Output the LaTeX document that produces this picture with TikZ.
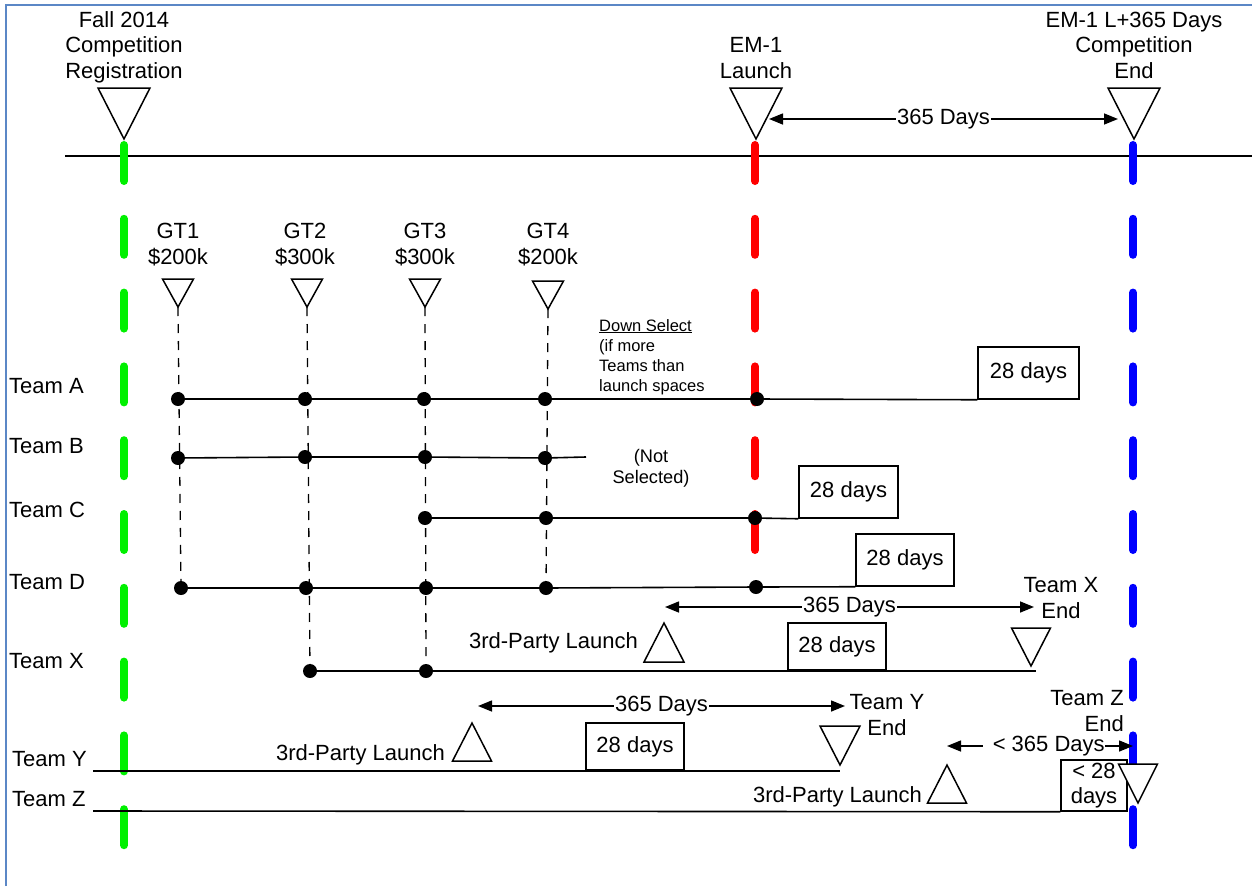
\documentclass[tikz,border=0pt]{standalone}
\usepackage{fontspec}
\setmainfont{Liberation Sans}
\usetikzlibrary{arrows.meta}
\definecolor{framec}{RGB}{91,135,198}
\definecolor{gline}{RGB}{0,240,0}
\definecolor{rline}{RGB}{255,0,0}
\definecolor{bline}{RGB}{0,0,255}
\newcommand\TriDown[5]{% name, x, apex y, width, height
  \coordinate (#1) at (#2,#3);
  \draw[tri] ({#2-#4/2},{#3-#5}) -- ({#2+#4/2},{#3-#5}) -- (#1) -- cycle;}
\newcommand\TriUp[5]{% name, x, apex y, width, height
  \coordinate (#1) at (#2,#3);
  \draw[tri] ({#2-#4/2},{#3+#5}) -- ({#2+#4/2},{#3+#5}) -- (#1) -- cycle;}
\begin{document}
\begin{tikzpicture}[x=1pt,y=-1pt,
  lbl/.style={font=\fontsize{22}{25.5}\selectfont, inner sep=0pt, align=center},
  smalllbl/.style={font=\fontsize{16.5}{20}\selectfont, inner sep=0pt, align=left},
  notsel/.style={font=\fontsize{18.2}{21}\selectfont, inner sep=0pt, align=center},
  tline/.style={line width=1.6pt},
  tri/.style={line width=1.5pt, fill=white, line join=miter},
  gtdash/.style={line width=1.3pt, dash pattern=on 9pt off 8pt},
  colline/.style={line width=8pt, line cap=round, dash pattern=on 36pt off 37.8pt},
  dot/.style={circle, fill=black, inner sep=0pt, minimum size=14pt},
  daybox/.style={draw, line width=1.5pt, fill=white, font=\fontsize{22}{25}\selectfont, inner sep=0pt, align=center},
  dim/.style={line width=1.5pt, {Triangle[length=14pt,width=11pt]}-{Triangle[length=14pt,width=11pt]}},
  dimlbl/.style={fill=white, inner sep=1pt, font=\fontsize{22}{25}\selectfont}
]
\useasboundingbox (0,0) rectangle (1252,886);
% frame
\draw[framec, line width=2pt] (6,886) -- (6,5) -- (1252,5);
% main timeline
\coordinate (tlS) at (65,156);
\coordinate (tlE) at (1252,156);
\draw[tline] (tlS) -- (tlE);
% coloured milestone lines
\coordinate (gTop) at (124,145); \coordinate (gBot) at (124,850);
\coordinate (rTop) at (755,145); \coordinate (rBot) at (755,552);
\coordinate (bTop) at (1133,145); \coordinate (bBot) at (1133,850);
\draw[colline, gline] (gTop) -- (gBot);
\draw[colline, rline] (rTop) -- (rBot);
\draw[colline, bline] (bTop) -- (bBot);
% top milestone triangles and labels
\TriDown{regT}{124}{139}{52}{51}
\TriDown{emT}{756}{139}{52}{51}
\TriDown{endT}{1134}{139}{52}{51}
\node[lbl, anchor=base] (regL) at (124,78) {Fall 2014\\Competition\\Registration};
\node[lbl, anchor=base] (emL) at (756,78) {EM-1\\Launch};
\node[lbl, anchor=base] (endL) at (1134,78) {EM-1 L+365 Days\\Competition\\End};
\coordinate (d0a) at (769,119); \coordinate (d0b) at (1118,119);
\draw[dim] (d0a) -- node[dimlbl] (d0L) {365 Days} (d0b);
% GT milestones
\TriDown{gt1}{178}{307}{31}{28}
\TriDown{gt2}{307}{307}{31}{28}
\TriDown{gt3}{425}{307}{31}{28}
\TriDown{gt4}{548}{309}{31}{28}
\node[lbl, anchor=base] (gt1L) at (178,264) {GT1\\\$200k};
\node[lbl, anchor=base] (gt2L) at (305,264) {GT2\\\$300k};
\node[lbl, anchor=base] (gt3L) at (425,264) {GT3\\\$300k};
\node[lbl, anchor=base] (gt4L) at (548,264) {GT4\\\$200k};
% team labels
\node[lbl, anchor=base west] (tA) at (9,393) {Team A};
\node[lbl, anchor=base west] (tB) at (9,453) {Team B};
\node[lbl, anchor=base west] (tC) at (9,517) {Team C};
\node[lbl, anchor=base west] (tD) at (9,589) {Team D};
\node[lbl, anchor=base west] (tX) at (9,668) {Team X};
\node[lbl, anchor=base west] (tY) at (12,766) {Team Y};
\node[lbl, anchor=base west] (tZ) at (12,806) {Team Z};
% boxes
\node[daybox, minimum width=101pt, minimum height=52pt] (bxA) at (1028.5,373) {28 days};
\node[daybox, minimum width=99pt, minimum height=52pt] (bxC) at (848.5,492) {28 days};
\node[daybox, minimum width=98pt, minimum height=52pt] (bxD) at (905,560) {28 days};
\node[daybox, minimum width=98pt, minimum height=47pt] (bxX) at (837,646.5) {28 days};
\node[daybox, minimum width=98pt, minimum height=47pt] (bxY) at (635,746.5) {28 days};
\node[daybox, minimum width=66pt, minimum height=51pt] (bxZ) at (1094,785.5) {< 28\\days};
% dots
\node[dot] (a1) at (178,399) {}; \node[dot] (a2) at (305,399) {};
\node[dot] (a3) at (424,399) {}; \node[dot] (a4) at (545,399) {};
\node[dot] (a5) at (757,399) {};
\node[dot] (b1) at (178,458) {}; \node[dot] (b2) at (305,457) {};
\node[dot] (b3) at (425,457) {}; \node[dot] (b4) at (545,458) {};
\node[dot] (c1) at (425,518) {}; \node[dot] (c2) at (546,518) {};
\node[dot] (c3) at (755,518) {};
\node[dot] (dd1) at (181,588) {}; \node[dot] (dd2) at (306,588) {};
\node[dot] (dd3) at (426,588) {}; \node[dot] (dd4) at (546,588) {};
\node[dot] (dd5) at (756,587) {};
\node[dot] (x1) at (310,671) {}; \node[dot] (x2) at (426,671) {};
% GT dashed drops
\draw[gtdash] (gt1) -- (dd1.center);
\draw[gtdash] (gt2) -- (x1.center);
\draw[gtdash] (gt3) -- (x2.center);
\draw[gtdash] (gt4) -- (dd4.center);
% team lines
\coordinate (bEnd) at (586,457);
\coordinate (xEnd) at (1036,671);
\coordinate (yS) at (93,771); \coordinate (yE) at (840,771);
\coordinate (zS) at (93,811);
\draw[tline] (a1) -- (a2) -- (a3) -- (a4) -- (a5) -- (bxA.south west);
\draw[tline] (b1) -- (b2) -- (b3) -- (b4) -- (bEnd);
\draw[tline] (c1) -- (c2) -- (c3) -- (bxC.south west);
\draw[tline] (dd1) -- (dd2) -- (dd3) -- (dd4) -- (dd5) -- (bxD.south west);
\draw[tline] (x1) -- (x2) -- (xEnd);
\draw[tline] (yS) -- (yE);
\draw[tline] (zS) -- (bxZ.south west);
% down select text
\node[smalllbl, anchor=base west] (dsel) at (599,391) {\underline{Down Select}\\(if more\\Teams than\\launch spaces};
\node[notsel, anchor=base] (nsel) at (651,483) {(Not\\Selected)};
% Team X third-party
\TriUp{xL}{664}{623}{40}{39}
\TriDown{xE}{1031}{666}{39}{38}
\node[lbl, anchor=base east] (xLL) at (638,648) {3rd-Party Launch};
\node[lbl, anchor=base] (xEL) at (1061,618) {Team X\\End};
\coordinate (dxa) at (665,607); \coordinate (dxb) at (1034,607);
\draw[dim] (dxa) -- node[dimlbl] (dxL) {365 Days} (dxb);
% Team Y third-party
\TriUp{yL}{472}{723}{39}{38}
\TriDown{yEt}{840}{765}{40}{39}
\node[lbl, anchor=base east] (yLL) at (445,760) {3rd-Party Launch};
\node[lbl, anchor=base] (yEL) at (887,735) {Team Y\\End};
\coordinate (dya) at (478,706); \coordinate (dyb) at (845,706);
\draw[dim] (dya) -- node[dimlbl] (dyL) {365 Days} (dyb);
% Team Z third-party
\TriUp{zL}{947}{765}{39}{38}
\TriDown{zEt}{1138}{803}{39}{39}
\node[lbl, anchor=base east] (zLL) at (922,802) {3rd-Party Launch};
\node[lbl, anchor=base east, align=right] (zEL) at (1124,731) {Team Z\\End};
\coordinate (dza) at (947,746); \coordinate (dzb) at (1133,746);
\draw[dim] (dza) -- node[dimlbl, inner sep=0pt, pos=0.52] (dzL) {\hspace{10pt}< 365 Days} (dzb);
\end{tikzpicture}
\end{document}
